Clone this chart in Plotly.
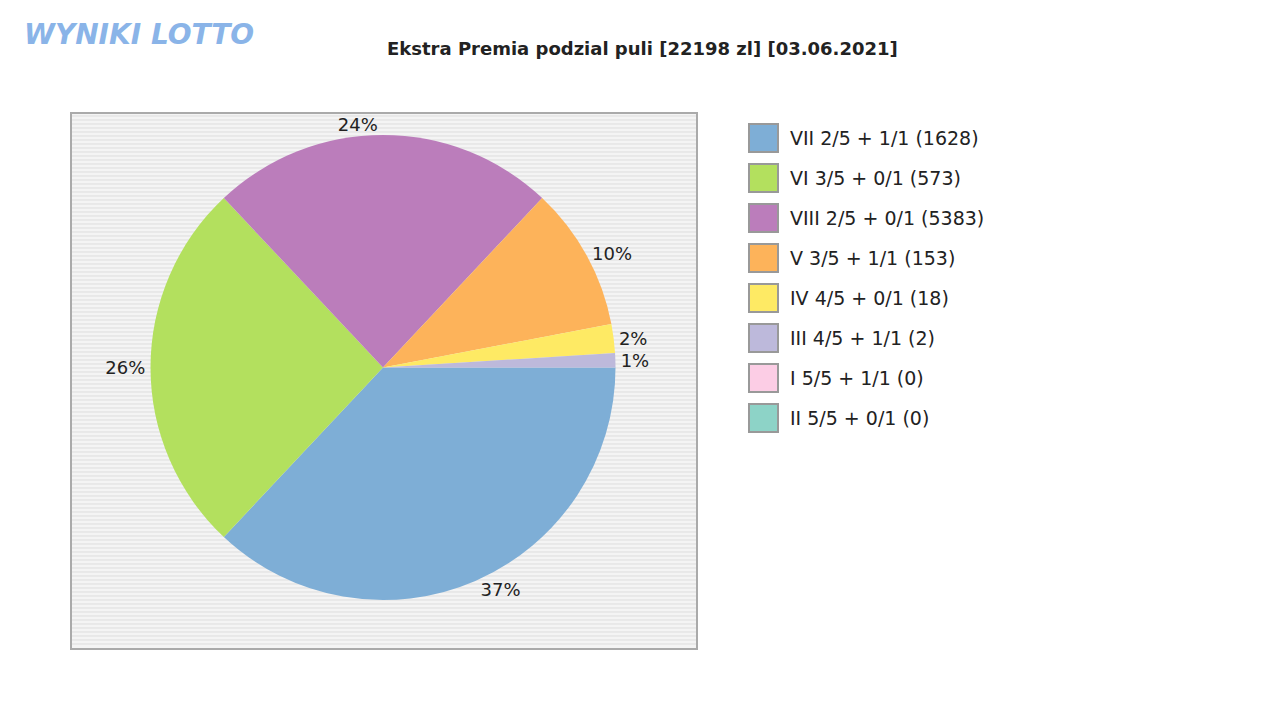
import plotly.graph_objects as go

labels = ["VII 2/5 + 1/1 (1628)", "VI 3/5 + 0/1 (573)", "VIII 2/5 + 0/1 (5383)",
          "V 3/5 + 1/1 (153)", "IV 4/5 + 0/1 (18)", "III 4/5 + 1/1 (2)",
          "I 5/5 + 1/1 (0)", "II 5/5 + 0/1 (0)"]
shares = [37, 26, 24, 10, 2, 1, 0, 0]
colors = ["#7eaed6", "#b3e05e", "#bb7dbb", "#fdb35a", "#feea64", "#bdb9db", "#fccde5", "#8dd3c7"]

W, H = 1280, 720
OX, OY = 8, 8  # page body offset compensation
tot = sum(shares)
texts = [f"{round(v / tot * 100)}%" if v > 0 else "" for v in shares]


def px(x):
    return (x - OX) / W


def py(y):
    return 1 - (y - OY) / H


fig = go.Figure()
fig.add_trace(go.Pie(
    values=shares, labels=labels, text=texts, texttemplate="%{text}",
    textposition="outside", sort=False, direction="clockwise", rotation=90,
    marker=dict(colors=colors, line=dict(width=0)), showlegend=False,
    textfont=dict(family="DejaVu Sans", size=18, color="#222"),
    domain=dict(x=[px(100), px(666)], y=[py(600), py(135)]),
    hoverinfo="label+percent",
))

shapes = []
shapes.append(dict(type="rect", xref="paper", yref="paper", x0=px(71), x1=px(697),
                   y0=py(649), y1=py(113), fillcolor="#f4f4f4",
                   line=dict(color="#aaaaaa", width=2), layer="below"))
y = 116
while y < 648:
    shapes.append(dict(type="line", xref="paper", yref="paper", x0=px(72), x1=px(696),
                       y0=py(y), y1=py(y), line=dict(color="#dddddd", width=1),
                       layer="below"))
    y += 4

annotations = []
for i, (lab, col) in enumerate(zip(labels, colors)):
    cy = 138 + 40 * i
    shapes.append(dict(type="rect", xref="paper", yref="paper", x0=px(749), x1=px(778),
                       y0=py(cy + 14), y1=py(cy - 14), fillcolor=col,
                       line=dict(color="#999999", width=2)))
    annotations.append(dict(text=lab, xref="paper", yref="paper", x=px(788), y=py(cy),
                            xanchor="left", yanchor="middle", showarrow=False,
                            font=dict(family="DejaVu Sans", size=19, color="#222")))

annotations.append(dict(text="<b>Ekstra Premia podzial puli [22198 zl] [03.06.2021]</b>",
                        xref="paper", yref="paper", x=px(642), y=py(48),
                        xanchor="center", yanchor="middle", showarrow=False,
                        font=dict(family="DejaVu Sans", size=18, color="#222")))
annotations.append(dict(text="<b><i>WYNIKI LOTTO</i></b>", xref="paper", yref="paper",
                        x=px(22), y=py(35), xanchor="left", yanchor="middle",
                        showarrow=False,
                        font=dict(family="DejaVu Sans", size=28, color="#8ab4e8")))

fig.update_layout(width=W, height=H,
                  margin=dict(l=0, r=0, t=0, b=0, pad=0, autoexpand=False),
                  paper_bgcolor="white", shapes=shapes, annotations=annotations)
fig.write_html("out.html")
